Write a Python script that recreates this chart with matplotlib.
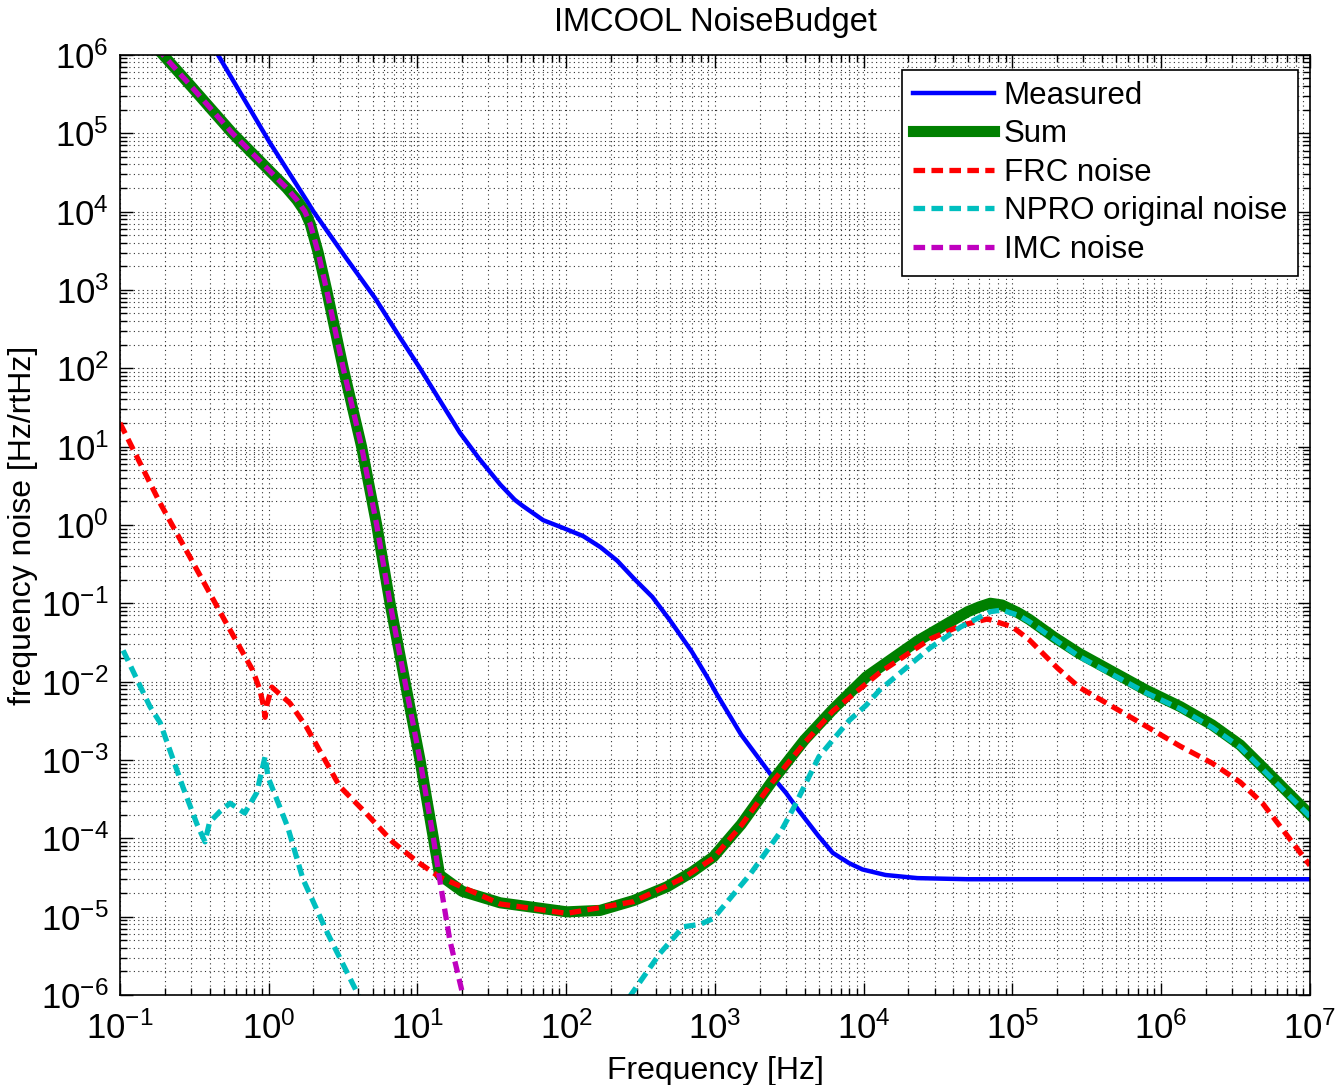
import matplotlib
matplotlib.use('Agg')
import matplotlib.pyplot as plt
import numpy as np

plt.rcParams['font.family'] = ['Liberation Sans', 'DejaVu Sans']
plt.rcParams['mathtext.fontset'] = 'custom'
plt.rcParams['mathtext.rm'] = 'Liberation Sans'
plt.rcParams['mathtext.it'] = 'Liberation Sans'
plt.rcParams['mathtext.bf'] = 'Liberation Sans'

# ------------------ #
#   Data (read off)  #
# ------------------ #
meas_f = [0.3, 0.456, 1.0, 1.8, 2.0, 3.34, 5.2, 7.6, 10.4, 14, 19.3, 26, 35.9, 45, 51, 70, 96,
          130, 170, 220, 283, 380, 500, 700, 885, 1020, 1500, 2450, 3000, 3700, 5000, 6200,
          8000, 9800, 1.4e4, 2.3e4, 5e4, 1e5, 1e6, 1e7]
meas_v = [3.5e6, 1e6, 8e4, 1.38e4, 1e4, 2.5e3, 780, 250, 100, 40, 15, 7, 3.3, 2.1, 1.75, 1.15,
          0.91, 0.72, 0.52, 0.35, 0.21, 0.12, 0.06, 0.024, 1.15e-2, 7.1e-3, 2.1e-3, 6e-4, 3.8e-4,
          2.2e-4, 1.05e-4, 6.5e-5, 4.8e-5, 4e-5, 3.4e-5, 3.1e-5, 3e-5, 3e-5, 3e-5, 3e-5]

sum_f = [0.1, 0.195, 0.3, 0.57, 1.0, 1.32, 1.55, 1.75, 1.9, 2.15, 2.45, 3.17, 4.21, 5.32, 6.54,
         8.24, 10.4, 12.8, 14.1, 20, 36, 101, 169, 283, 475, 700, 977, 1500, 2450, 4000, 6200,
         1.04e4, 2.3e4, 2.8e4, 5e4, 6e4, 7.1e4, 8.5e4, 1.1e5, 1.3e5, 1.9e5, 2.8e5, 7.9e5,
         1.34e6, 2.2e6, 3.4e6, 4.8e6, 1e7]
sum_v = [4e6, 1e6, 4e5, 1e5, 3.4e4, 2e4, 1.4e4, 1e4, 7e3, 3e3, 1e3, 1e2, 10, 1, 0.1,
         1e-2, 1e-3, 1e-4, 3.4e-5, 2.1e-5, 1.5e-5, 1.15e-5, 1.2e-5, 1.6e-5, 2.4e-5, 3.7e-5, 5.8e-5,
         1.5e-4, 5.5e-4, 1.8e-3, 4.4e-3, 1.15e-2, 3.3e-2, 0.041, 0.078, 0.09, 0.1, 0.095, 0.075,
         0.062, 0.037, 0.023, 7.8e-3, 4.8e-3, 2.8e-3, 1.55e-3, 8.1e-4, 2e-4]

frc_f = [0.1, 0.186, 0.295, 0.52, 0.78, 0.873, 0.92, 0.945, 0.97, 1.05, 1.39, 1.8, 2.32, 3.0,
         4.5, 6.8, 10, 14.1, 36, 101, 283, 611, 977, 1500, 2450, 4000, 6200, 1.28e4, 2.8e4,
         4.5e4, 6.8e4, 1e5, 1.3e5, 2e5, 2.8e5, 4.7e5, 7.9e5, 1.34e6, 2.2e6, 3.4e6, 4.8e6, 1e7]
frc_v = [20, 1.9, 0.39, 0.055, 0.014, 7.8e-3, 5e-3, 3.5e-3, 5e-3, 8.5e-3, 5.3e-3, 2.6e-3, 1.1e-3,
         4.6e-4, 2.1e-4, 9e-5, 5e-5, 3.2e-5, 1.45e-5, 1.1e-5, 1.55e-5, 3.1e-5, 5.6e-5, 1.45e-4,
         5.3e-4, 1.65e-3, 4.2e-3, 0.013, 0.035, 0.052, 0.063, 0.05, 0.034, 0.015, 8.5e-3, 4.8e-3,
         2.7e-3, 1.5e-3, 9.1e-4, 5.2e-4, 2.8e-4, 4.5e-5]

npro_f = [0.105, 0.159, 0.186, 0.265, 0.33, 0.373, 0.40, 0.47, 0.55, 0.69, 0.83, 0.945, 0.99,
          1.34, 1.7, 2.5, 4.0, 6.0, 150, 272, 427, 611, 800, 977, 1730, 2800, 3400, 5000, 6200,
          8000, 1.04e4, 1.28e4, 2.8e4, 4.5e4, 7.1e4, 8.5e4, 1.1e5, 1.3e5, 1.9e5, 2.8e5, 7.9e5,
          1.34e6, 2.2e6, 3.4e6, 4.8e6, 1e7]
npro_v = [0.025, 4.8e-3, 3e-3, 4.5e-4, 1.5e-4, 9e-5, 1.6e-4, 2.2e-4, 2.8e-4, 2.1e-4, 3.8e-4,
          1.1e-3, 6e-4, 1.4e-4, 3e-5, 6e-6, 1e-6, 2e-7, 1.5e-7, 1e-6, 3.4e-6, 7.4e-6, 8e-6, 9.5e-6,
          3.5e-5, 1.26e-4, 2.5e-4, 1.1e-3, 1.8e-3, 3.2e-3, 5e-3, 7.8e-3, 0.027, 0.05, 0.078,
          0.082, 0.07, 0.058, 0.035, 0.021, 7.2e-3, 4.5e-3, 2.6e-3, 1.45e-3, 7.6e-4, 1.9e-4]

imc_f = [0.1, 0.195, 0.3, 0.57, 1.0, 1.32, 1.55, 1.75, 1.9, 2.15, 2.45, 3.17, 4.21, 5.32, 6.54,
         8.24, 10.4, 12.8, 14.1, 16.5, 20.2, 25]
imc_v = [4e6, 1e6, 4e5, 1e5, 3.4e4, 2e4, 1.4e4, 1e4, 7e3, 3e3, 1e3, 1e2, 10, 1, 0.1,
         1e-2, 1e-3, 1e-4, 3e-5, 5e-6, 1e-6, 2e-7]

# -------------- #
#   Plotting     #
# -------------- #
fig = plt.figure(figsize=(13.36, 10.85), dpi=100)
ax = fig.add_axes([0.0898, 0.083, 0.8907, 0.8664])

dash = (2.2, 1.2)
ax.loglog(meas_f, meas_v, color=(0, 0, 1), lw=3.2, label='Measured')
ax.loglog(sum_f, sum_v, color=(0, 0.5, 0), lw=8, label='Sum')
ax.loglog(frc_f, frc_v, color=(1, 0, 0), lw=3.8, dashes=dash, label='FRC noise')
ax.loglog(npro_f, npro_v, color=(0, 0.75, 0.75), lw=3.8, dashes=dash, label='NPRO original noise')
ax.loglog(imc_f, imc_v, color=(0.75, 0, 0.75), lw=3.8, dashes=dash, label='IMC noise')

ax.set_xlim(1e-1, 1e7)
ax.set_ylim(1e-6, 1e6)
ax.set_xticks([10.0 ** k for k in range(-1, 8)])
ax.set_yticks([10.0 ** k for k in range(-6, 7)])
ax.xaxis.set_minor_locator(matplotlib.ticker.LogLocator(base=10, subs=np.arange(2, 10), numticks=100))
ax.yaxis.set_minor_locator(matplotlib.ticker.LogLocator(base=10, subs=np.arange(2, 10), numticks=100))
ax.xaxis.set_minor_formatter(matplotlib.ticker.NullFormatter())
ax.yaxis.set_minor_formatter(matplotlib.ticker.NullFormatter())

ax.grid(True, which='both', linestyle=(0, (1, 3)), color='k', linewidth=0.8, alpha=0.8)
ax.tick_params(which='both', direction='in', top=True, right=True, labelsize=25, width=1)
ax.tick_params(which='major', length=9)
ax.tick_params(axis='x', which='major', pad=12)
ax.tick_params(axis='y', which='major', pad=8)
ax.tick_params(which='minor', length=5)
for s in ax.spines.values():
    s.set_linewidth(1.2)

ax.set_title('IMCOOL NoiseBudget', fontsize=23.5, pad=17)
ax.set_xlabel('Frequency [Hz]', fontsize=23, labelpad=7)
ax.set_ylabel('frequency noise [Hz/rtHz]', fontsize=23, labelpad=2)

leg = ax.legend(loc='upper right', bbox_to_anchor=(0.99, 0.984), borderaxespad=0,
                fontsize=22.5, handlelength=2.6, labelspacing=0.27, borderpad=0.35,
                handletextpad=0.3, fancybox=False, framealpha=1, edgecolor='k')
leg.get_frame().set_linewidth(1.2)

fig.savefig('out.png', dpi=100)
